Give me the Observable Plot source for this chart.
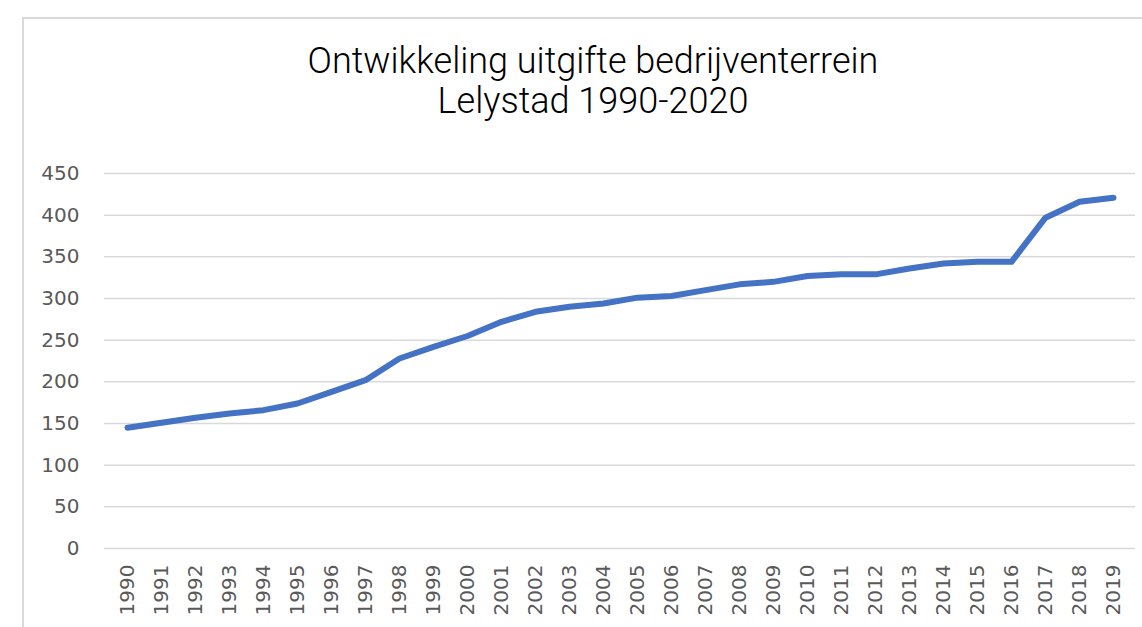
<!DOCTYPE html>
<html>
<head>
<meta charset="utf-8">
<script src="https://cdn.jsdelivr.net/npm/d3@7"></script>
<script src="https://cdn.jsdelivr.net/npm/@observablehq/plot@0.6"></script>
<style>
  html, body { margin: 0; padding: 0; background: #fff; }
  #wrap { position: relative; width: 1142px; height: 627px; overflow: hidden; }
  #frame { position: absolute; left: 22px; top: 17px; width: 1130px; height: 620px;
           border-left: 2px solid #d9d9d9; border-top: 2px solid #d9d9d9; box-sizing: border-box; }
  #title { position: absolute; left: 33px; width: 1120px; top: 41px; text-align: center;
           font-family: Roboto, sans-serif; font-weight: 300; font-size: 36px; line-height: 40px; color: #000; }
  #chart { position: absolute; left: 0; top: 150px; }
</style>
</head>
<body>
<div id="wrap">
  <div id="frame"></div>
  <div id="title">Ontwikkeling uitgifte bedrijventerrein<br>Lelystad 1990-2020</div>
  <div id="chart"></div>
</div>
<script>
const years = ["1990","1991","1992","1993","1994","1995","1996","1997","1998","1999",
               "2000","2001","2002","2003","2004","2005","2006","2007","2008","2009",
               "2010","2011","2012","2013","2014","2015","2016","2017","2018","2019"];
const hectares = [145, 151, 157, 162, 166, 174, 188, 202, 228, 242,
                  255, 272, 284, 290, 294, 301, 303, 310, 317, 320,
                  327, 329, 329, 336, 342, 344, 344, 397, 416, 421];
const yTicks = [0, 50, 100, 150, 200, 250, 300, 350, 400, 450];

const data = years.map((y, i) => ({year: y, value: hectares[i]}));

const chart = Plot.plot({
  width: 1142,
  height: 477,
  marginTop: 23,
  marginBottom: 79,
  marginLeft: 104,
  marginRight: 7,
  style: {fontFamily: "'DejaVu Sans', sans-serif", fontSize: "20px", color: "#595959", background: "transparent"},
  x: {type: "point", domain: years, range: [121, 1118], padding: 0, label: null},
  y: {domain: [0, 450], ticks: yTicks, label: null},
  marks: [
    Plot.ruleY(yTicks, {stroke: "#d9d9d9", strokeWidth: 1.5, strokeOpacity: 1}),
    Plot.axisY({ticks: yTicks, tickSize: 0, tickPadding: 25, label: null, fill: "#595959", fontSize: 20}),
    Plot.axisX({tickSize: 0, tickPadding: 16, tickRotate: -90, label: null, fill: "#595959", fontSize: 20}),
    Plot.line(data, {x: "year", y: "value", stroke: "#4472C4", strokeWidth: 6, strokeLinecap: "round", strokeLinejoin: "round"})
  ]
});
document.getElementById("chart").appendChild(chart);
</script>
</body>
</html>
